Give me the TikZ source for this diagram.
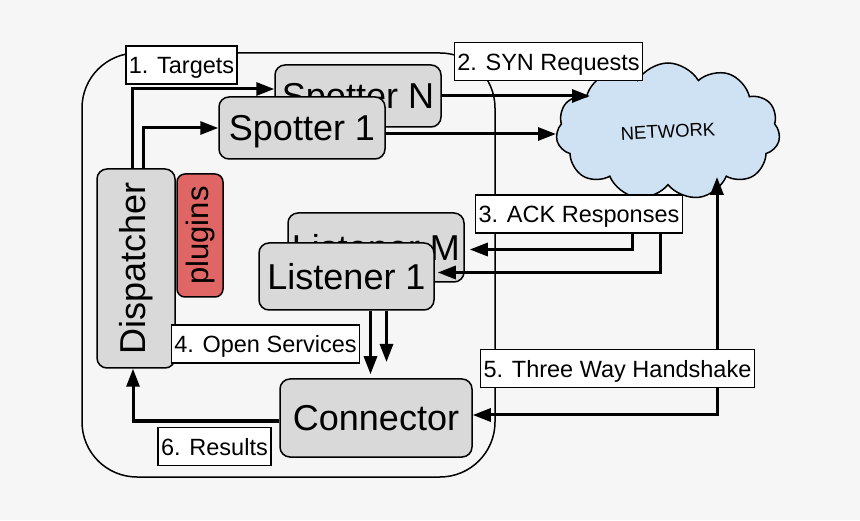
\documentclass[tikz,border=0pt]{standalone}
\usepackage{fontspec}
\setmainfont{Liberation Sans}
\usetikzlibrary{arrows.meta,shapes.symbols,calc}
\definecolor{boxgray}{HTML}{D9D9D9}
\definecolor{plugred}{HTML}{E06666}
\definecolor{netblue}{HTML}{CFE2F3}
\definecolor{paper}{HTML}{F6F6F6}
\tikzset{
  module/.style={draw, fill=boxgray, line width=1.5pt, rounded corners=10pt,
    inner sep=0pt, text depth=0pt, font=\fontsize{36}{40}\selectfont},
  tag/.style={draw, fill=white, line width=1.5pt, inner xsep=3pt, inner ysep=0pt,
    text height=22pt, text depth=4pt, minimum height=38pt,
    font=\fontsize{23.5}{26}\selectfont},
  flow/.style={line width=3pt, -{Triangle[length=18pt,width=13pt]}},
  twoway/.style={line width=3pt, {Triangle[length=18pt,width=13pt]}-{Triangle[length=18pt,width=13pt]}},
}
\begin{document}
\begin{tikzpicture}[x=1pt,y=1pt]
    %initialisation
    \useasboundingbox (0,0) rectangle (860,520);
    \fill[paper] (0,0) rectangle (860,520);
    %definitions
    \coordinate (SN) at (590,424);
    \coordinate (S1) at (556,386);
    \coordinate (AM) at (632,322);
    \coordinate (A1) at (660,322);
    \coordinate (H) at (717,343);
    \coordinate (E) at (386.5,158);
    %drawing
    \draw[line width=1.5pt, rounded corners=55pt] (82,43) rectangle (495,467);
    \node[module, minimum width=166pt, minimum height=62pt] (spN) at (358,424) {Spotter N};
    \node[module, minimum width=166pt, minimum height=62pt] (sp1) at (302,392) {Spotter 1};
    \node[module, minimum width=176pt, minimum height=69pt] (lsM) at (376,272.5) {Listener M};
    \node[module, minimum width=175pt, minimum height=67pt] (ls1) at (346.5,243.5) {Listener 1};
    \node[module, minimum width=78pt, minimum height=199pt] (disp) at (136,251.5) {\rotatebox{90}{Dispatcher}};
    \node[module, fill=plugred, rounded corners=8pt, minimum width=46pt, minimum height=123pt,
      font=\fontsize{31}{34}\selectfont] (plug) at (200,284.5) {\rotatebox{90}{plugins}};
    \node[module, minimum width=192pt, minimum height=78pt] (con) at (376,102) {Connector};
    \node[cloud, draw, fill=netblue, line width=1.5pt, cloud puffs=11, cloud puff arc=120,
      aspect=1.6, minimum width=224pt, minimum height=137pt, inner sep=0pt,
      font=\fontsize{18.5}{20}\selectfont] (net) at (668,388.5) {\rotatebox{3}{NETWORK}};
    %connectors
    \coordinate (D1) at ($(disp.north)+(-4,0)$);
    \coordinate (D2) at ($(disp.north)+(7,0)$);
    \coordinate (L1) at ($(ls1.south)+(24,0)$);
    \coordinate (L2) at ($(ls1.south)+(40,0)$);
    \draw[flow] (D1) |- ($(spN.west)+(0,7)$);
    \draw[flow] (D2) |- (sp1.west);
    \draw[flow] (spN.east) -- (SN);
    \draw[flow] ($(sp1.east)+(0,-6)$) -- (S1);
    \draw[flow, shorten >=5pt] (AM) |- ($(lsM.east)+(0,-2)$);
    \draw[flow, shorten >=3pt] (A1) |- ($(ls1.east)+(0,4)$);
    \draw[flow, shorten >=4pt] (L1) -- (L1 |- con.north);
    \draw[flow] (L2) -- (E);
    \draw[twoway] ($(con.east)+(0,3)$) -| (H);
    \draw[flow] ($(con.west)+(0,-3)$) -| ($(disp.south)+(-3,0)$);
    %label
    \node[tag] (tgt) at (181.5,455) {1. Targets};
    \node[tag] (syn) at (548.5,458.5) {2. SYN Requests};
    \node[tag] (ack) at (579,306) {3. ACK Responses};
    \node[tag] (open) at (265.5,176) {4. Open Services};
    \node[tag] (hand) at (617.5,151.5) {5. Three Way Handshake};
    \node[tag] (res) at (214.5,73.5) {6. Results};
\end{tikzpicture}
\end{document}
